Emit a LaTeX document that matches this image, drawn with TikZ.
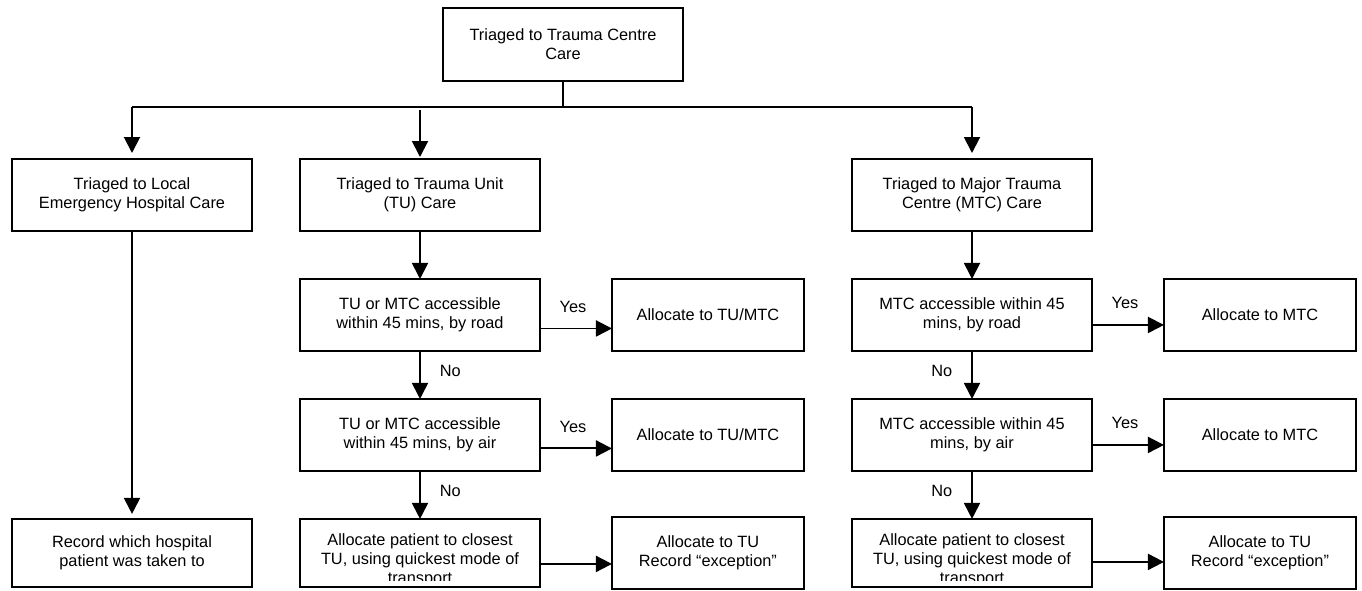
\documentclass[tikz,border=0pt]{standalone}
\usepackage{fontspec}
\setmainfont{Liberation Sans}
\usetikzlibrary{arrows.meta,positioning}

\begin{document}
\begin{tikzpicture}[x=0.02cm,y=-0.02cm,line width=1.1pt,>={Triangle[length=0.32cm,width=0.32cm]},
 node distance=0.96cm and 1.44cm,
 txt/.style={font=\fontsize{9.3}{10.8}\selectfont,align=center},
 box/.style={txt,draw,minimum width=4.8cm,minimum height=1.44cm,inner sep=0pt,outer sep=0pt},
 sbox/.style={box,minimum width=3.84cm},
 yes/.style={txt,midway,above=0.18cm,xshift=-0.06cm},
 no/.style={txt,midway,yshift=0.08cm}]
\useasboundingbox(0,0)rectangle(1362,591);
\node[box,minimum height=1.46cm](tc)at(563,44.5){Triaged to Trauma Centre\\Care};
\node[box](leh)at(132,195){Triaged to Local\\Emergency Hospital Care};
\node[box](tu)at(420,195){Triaged to Trauma Unit\\(TU) Care};
\node[box](mtc)at(972,195){Triaged to Major Trauma\\Centre (MTC) Care};
\node[box,below=5.76cm of leh,minimum height=1.36cm](rec){Record which hospital\\patient was taken to};
% TU column
\node[box,below=of tu](turoad){TU or MTC accessible\\within 45 mins, by road};
\node[box,below=of turoad](tuair){TU or MTC accessible\\within 45 mins, by air};
\node[box,below=of tuair,minimum height=1.36cm](tulast){};
\node[sbox,right=of turoad](turoadyes){Allocate to TU/MTC};
\node[sbox,right=of tuair](tuairyes){Allocate to TU/MTC};
\node[sbox,right=of tulast](tuexc){Allocate to TU\\Record ``exception''};
% MTC column
\node[box,below=of mtc](mtcroad){MTC accessible within 45\\mins, by road};
\node[box,below=of mtcroad](mtcair){MTC accessible within 45\\mins, by air};
\node[box,below=of mtcair,minimum height=1.36cm](mtclast){};
\node[sbox,right=of mtcroad](mtcroadyes){Allocate to MTC};
\node[sbox,right=of mtcair](mtcairyes){Allocate to MTC};
\node[sbox,right=of mtclast](mtcexc){Allocate to TU\\Record ``exception''};
\begin{scope}
\clip(tulast.north west)rectangle([yshift=0.12cm]tulast.south east);
\node[txt,anchor=north,inner sep=0pt](tulasttxt)at([yshift=-0.28cm]tulast.north){Allocate patient to closest\\TU, using quickest mode of\\transport};
\end{scope}
\begin{scope}
\clip(mtclast.north west)rectangle([yshift=0.12cm]mtclast.south east);
\node[txt,anchor=north,inner sep=0pt](mtclasttxt)at([yshift=-0.28cm]mtclast.north){Allocate patient to closest\\TU, using quickest mode of\\transport};
\end{scope}
\coordinate(hl)at(132,107);\coordinate(hr)at(972,107);
\draw[line width=0.8pt](tc)--(tc.south|-hl)(hl)--(hr);
\draw[->,shorten >=0.12cm](hl)--(leh);
\draw[->,shorten >=0.12cm](hr)--(mtc);
\draw[->,shorten >=0.04cm]([yshift=-0.06cm]hl-|tu)--(tu);
\draw[->,shorten >=0.1cm](leh)--(rec);
\draw[->](tu)--(turoad);
\draw[->](turoad)--node[no,right=0.26cm](tuno1){No}(tuair);
\draw[->](tuair)--node[no,right=0.26cm](tuno2){No}(tulast);
\draw[->]([yshift=-0.27cm]turoad.east)--node[yes](tuyes1){Yes}([yshift=-0.27cm]turoadyes.west);
\draw[->]([yshift=-0.27cm]tuair.east)--node[yes](tuyes2){Yes}([yshift=-0.27cm]tuairyes.west);
\draw[->]([yshift=-0.22cm]tulast.east)--([yshift=-0.22cm]tuexc.west);
\draw[->](mtc)--(mtcroad);
\draw[->](mtcroad)--node[no,left=0.26cm](mtcno1){No}(mtcair);
\draw[->](mtcair)--node[no,left=0.26cm](mtcno2){No}(mtclast);
\draw[->]([yshift=-0.2cm]mtcroad.east)--node[yes](mtcyes1){Yes}([yshift=-0.2cm]mtcroadyes.west);
\draw[->]([yshift=-0.2cm]mtcair.east)--node[yes](mtcyes2){Yes}([yshift=-0.2cm]mtcairyes.west);
\draw[->]([yshift=-0.18cm]mtclast.east)--([yshift=-0.18cm]mtcexc.west);
\end{tikzpicture}
\end{document}
